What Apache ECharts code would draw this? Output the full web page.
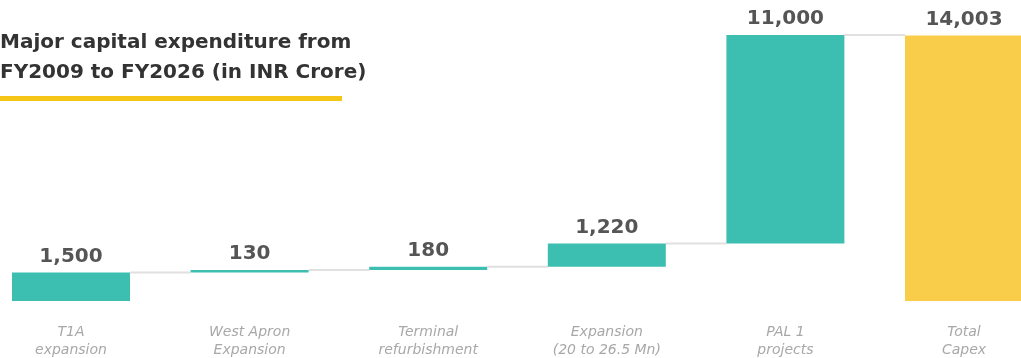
<!DOCTYPE html>
<html>
<head>
<meta charset="utf-8">
<script src="https://cdn.jsdelivr.net/npm/echarts@6/dist/echarts.min.js"></script>
<style>
  html, body { margin: 0; padding: 0; background: #fff; }
  #chart { width: 1021px; height: 358px; }
</style>
</head>
<body>
<div id="chart"></div>
<script>
// categories and values (INR Crore)
var categories = ['T1A\nexpansion', 'West Apron\nExpansion', 'Terminal\nrefurbishment',
                  'Expansion\n(20 to 26.5 Mn)', 'PAL 1\nprojects', 'Total\nCapex'];
var values = [1500, 130, 180, 1220, 11000, 14003];
var isTotal = [false, false, false, false, false, true];

var teal = '#3cbfb1';
var yellow = '#f9cd4a';

// invisible base for the waterfall steps
var bases = [];
var running = 0;
for (var i = 0; i < values.length; i++) {
    if (isTotal[i]) {
        bases.push(0);
    } else {
        bases.push(running);
        running += values[i];
    }
}
var topValue = Math.max(running, values[values.length - 1]);

// connector levels between neighbouring bars
var connectors = [];
for (var j = 0; j < values.length - 1; j++) {
    connectors.push([j, bases[j] + values[j]]);
}

var barWidth = 118;

var myChart = echarts.init(document.getElementById('chart'));

var option = {
    animation: false,
    grid: { left: 71, right: 57, top: 35, bottom: 57, outerBoundsMode: 'none', containLabel: false },
    graphic: [
        {
            type: 'text',
            left: 0,
            top: 28,
            style: {
                text: 'Major capital expenditure from\nFY2009 to FY2026 (in INR Crore)',
                font: 'bold 20px "DejaVu Sans"',
                lineHeight: 30,
                fill: '#333333'
            }
        },
        {
            type: 'rect',
            left: 0,
            top: 96,
            shape: { width: 342, height: 5 },
            style: { fill: '#f5c518' }
        }
    ],
    xAxis: {
        type: 'category',
        data: categories,
        boundaryGap: false,
        axisLine: { show: false },
        axisTick: { show: false },
        axisLabel: {
            interval: 0,
            margin: 22,
            fontSize: 14,
            lineHeight: 18,
            fontStyle: 'italic',
            color: '#a8a8a8',
            fontFamily: 'DejaVu Sans'
        }
    },
    yAxis: {
        type: 'value',
        min: 0,
        max: topValue,
        show: false,
        splitLine: { show: false }
    },
    series: [
        {
            type: 'custom',
            z: 1,
            clip: false,
            renderItem: function (params, api) {
                var idx = api.value(0);
                var start = api.coord([idx, api.value(1)]);
                var end = api.coord([idx + 1, api.value(1)]);
                return {
                    type: 'line',
                    shape: {
                        x1: start[0] + barWidth / 2, y1: start[1],
                        x2: end[0] - barWidth / 2, y2: end[1]
                    },
                    style: { stroke: '#e0e0e0', lineWidth: 2 }
                };
            },
            data: connectors
        },
        {
            type: 'bar',
            stack: 'w',
            clip: false,
            barWidth: barWidth,
            itemStyle: { color: 'transparent' },
            data: bases
        },
        {
            type: 'bar',
            stack: 'w',
            clip: false,
            barWidth: barWidth,
            z: 3,
            data: values.map(function (v, k) {
                return { value: v, itemStyle: { color: isTotal[k] ? yellow : teal } };
            }),
            label: {
                show: true,
                position: 'top',
                distance: 6,
                fontSize: 20,
                fontWeight: 'bold',
                color: '#555555',
                fontFamily: 'DejaVu Sans',
                formatter: function (p) {
                    return p.value.toLocaleString('en-US');
                }
            }
        }
    ]
};

myChart.setOption(option);
</script>
</body>
</html>
